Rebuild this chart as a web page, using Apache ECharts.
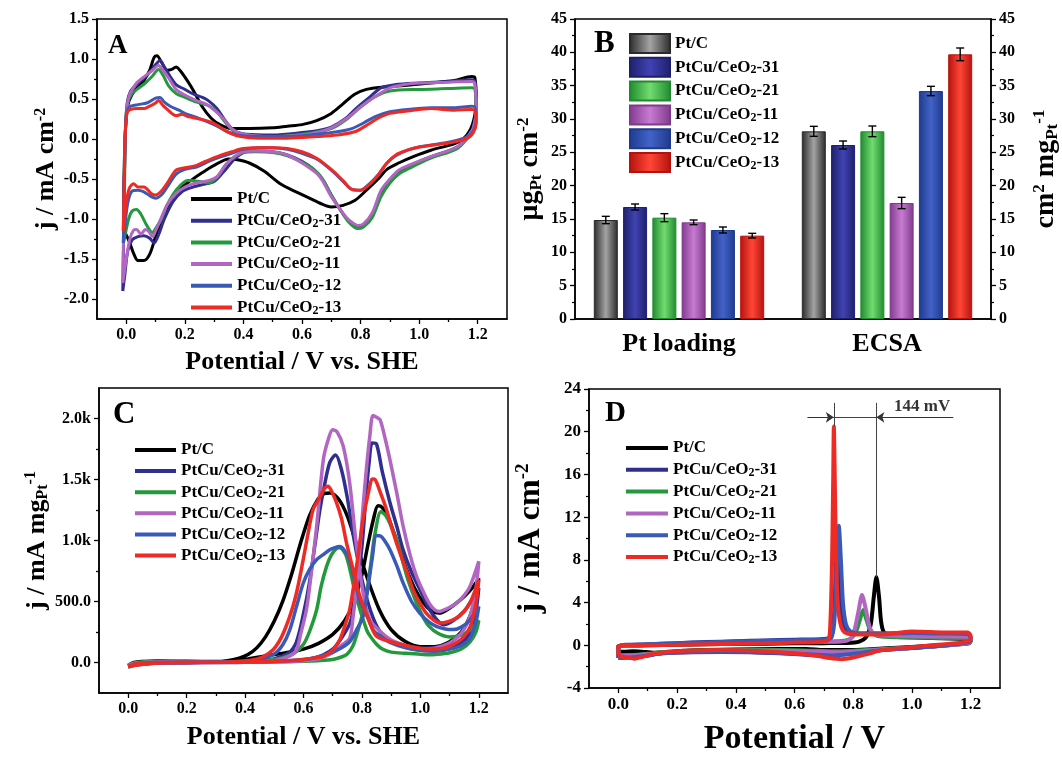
<!DOCTYPE html>
<html><head><meta charset="utf-8">
<script src="https://cdn.jsdelivr.net/npm/echarts@6/dist/echarts.min.js"></script>
<style>html,body{margin:0;padding:0;background:#fff}#c{width:1062px;height:757px}</style>
</head><body><div id="c"></div>
<script>
// ---------- shared ----------
const LABELS = ['Pt/C','PtCu/CeO2-31','PtCu/CeO2-21','PtCu/CeO2-11','PtCu/CeO2-12','PtCu/CeO2-13'];
const LINE_COLORS = ['#000000','#302e8e','#23993c','#b266c2','#3a5ab8','#ee2a24'];
const BAR_DARK  = ['#2a2a2a','#1e1f6b','#1f8a2e','#7f3a8c','#1f3a8c','#b5120e'];
const BAR_LIGHT = ['#a4a4a4','#4043b2','#72dc70','#c77bd2','#4262c8','#ff4636'];
const X_TICKS = [0,0.2,0.4,0.6,0.8,1.0,1.2];
const X_MINOR = [0.1,0.3,0.5,0.7,0.9,1.1];

// ---------- Panel A: CV (j / mA cm-2 vs potential) ----------
const A_Y_TICKS = [-2,-1.5,-1,-0.5,0,0.5,1,1.5];
const A_Y_MINOR = [-1.75,-1.25,-0.75,-0.25,0.25,0.75,1.25];
const cvA_PtC = [[-0.01,-1.15],[-0.008,-0.5],[-0.003,0.1],[0.005,0.42],[0.02,0.56],[0.04,0.65],[0.06,0.73],[0.08,0.86],[0.095,1.02],[0.105,1.04],[0.12,0.96],[0.14,0.86],[0.155,0.87],[0.17,0.9],[0.185,0.85],[0.21,0.72],[0.23,0.6],[0.26,0.4],[0.29,0.26],[0.32,0.18],[0.36,0.13],[0.42,0.13],[0.5,0.14],[0.55,0.16],[0.6,0.18],[0.65,0.23],[0.7,0.32],[0.74,0.44],[0.78,0.56],[0.82,0.62],[0.88,0.65],[0.95,0.67],[1.04,0.7],[1.12,0.73],[1.18,0.78],[1.19,0.77],[1.195,0.5],[1.19,0.3],[1.175,0.12],[1.15,0.0],[1.12,-0.06],[1.04,-0.14],[0.98,-0.22],[0.93,-0.3],[0.89,-0.38],[0.86,-0.5],[0.82,-0.64],[0.78,-0.77],[0.74,-0.83],[0.7,-0.85],[0.66,-0.8],[0.62,-0.73],[0.58,-0.66],[0.53,-0.57],[0.47,-0.4],[0.42,-0.3],[0.38,-0.26],[0.35,-0.25],[0.3,-0.33],[0.26,-0.42],[0.22,-0.52],[0.18,-0.63],[0.15,-0.78],[0.12,-1.02],[0.1,-1.22],[0.08,-1.44],[0.06,-1.52],[0.04,-1.52],[0.025,-1.43],[0.012,-1.3],[0.0,-1.2],[-0.01,-1.15]];
const cvA_31 = [[-0.012,-1.9],[-0.008,-1.0],[-0.004,0.0],[0.003,0.45],[0.015,0.6],[0.035,0.68],[0.06,0.76],[0.085,0.86],[0.105,0.95],[0.115,0.98],[0.13,0.9],[0.15,0.78],[0.17,0.68],[0.2,0.62],[0.23,0.56],[0.26,0.52],[0.28,0.48],[0.31,0.38],[0.34,0.22],[0.37,0.1],[0.41,0.06],[0.5,0.05],[0.6,0.08],[0.66,0.11],[0.7,0.15],[0.75,0.26],[0.79,0.4],[0.83,0.52],[0.87,0.64],[0.92,0.68],[1.0,0.7],[1.1,0.72],[1.18,0.74],[1.19,0.72],[1.195,0.4],[1.185,0.15],[1.17,0.05],[1.13,-0.1],[1.04,-0.22],[0.97,-0.33],[0.93,-0.42],[0.9,-0.52],[0.87,-0.68],[0.84,-0.95],[0.81,-1.08],[0.79,-1.1],[0.76,-1.03],[0.73,-0.88],[0.7,-0.7],[0.67,-0.5],[0.64,-0.38],[0.6,-0.28],[0.55,-0.2],[0.5,-0.16],[0.44,-0.15],[0.4,-0.17],[0.37,-0.25],[0.33,-0.42],[0.3,-0.53],[0.26,-0.57],[0.22,-0.61],[0.19,-0.66],[0.16,-0.78],[0.13,-1.0],[0.11,-1.2],[0.095,-1.3],[0.08,-1.24],[0.06,-1.21],[0.04,-1.22],[0.02,-1.26],[0.005,-1.4],[-0.005,-1.7],[-0.012,-1.9]];
const cvA_21 = [[-0.01,-1.3],[-0.006,-0.6],[-0.002,0.2],[0.005,0.45],[0.02,0.57],[0.04,0.63],[0.065,0.7],[0.09,0.79],[0.11,0.87],[0.125,0.8],[0.145,0.66],[0.17,0.57],[0.2,0.52],[0.24,0.46],[0.28,0.42],[0.31,0.34],[0.34,0.2],[0.37,0.09],[0.41,0.04],[0.5,0.03],[0.6,0.06],[0.7,0.13],[0.75,0.24],[0.8,0.4],[0.85,0.53],[0.9,0.6],[1.0,0.62],[1.1,0.63],[1.18,0.64],[1.19,0.63],[1.195,0.35],[1.185,0.12],[1.17,0.03],[1.13,-0.12],[1.04,-0.24],[0.97,-0.36],[0.93,-0.44],[0.9,-0.55],[0.87,-0.72],[0.84,-0.98],[0.81,-1.1],[0.79,-1.12],[0.76,-1.04],[0.73,-0.88],[0.7,-0.7],[0.67,-0.5],[0.64,-0.38],[0.6,-0.29],[0.55,-0.21],[0.5,-0.17],[0.44,-0.16],[0.4,-0.17],[0.37,-0.22],[0.34,-0.32],[0.31,-0.48],[0.28,-0.55],[0.25,-0.53],[0.21,-0.52],[0.17,-0.64],[0.14,-0.82],[0.12,-1.0],[0.1,-1.12],[0.09,-1.17],[0.07,-1.08],[0.05,-0.94],[0.035,-0.88],[0.02,-0.9],[0.008,-1.0],[-0.004,-1.2],[-0.01,-1.3]];
const cvA_11 = [[-0.012,-1.8],[-0.008,-0.9],[-0.004,0.0],[0.003,0.42],[0.012,0.56],[0.035,0.7],[0.065,0.79],[0.09,0.86],[0.11,0.92],[0.125,0.86],[0.145,0.76],[0.17,0.62],[0.2,0.55],[0.24,0.48],[0.27,0.44],[0.3,0.36],[0.33,0.26],[0.36,0.13],[0.4,0.06],[0.5,0.03],[0.58,0.04],[0.65,0.08],[0.7,0.14],[0.75,0.25],[0.8,0.4],[0.85,0.53],[0.9,0.64],[0.95,0.68],[1.0,0.7],[1.1,0.71],[1.18,0.72],[1.19,0.7],[1.195,0.38],[1.185,0.14],[1.17,0.05],[1.13,-0.1],[1.04,-0.22],[0.97,-0.32],[0.93,-0.39],[0.9,-0.5],[0.87,-0.64],[0.84,-0.92],[0.81,-1.06],[0.79,-1.08],[0.76,-1.01],[0.74,-0.93],[0.7,-0.72],[0.67,-0.52],[0.65,-0.43],[0.6,-0.3],[0.55,-0.2],[0.5,-0.16],[0.44,-0.15],[0.4,-0.16],[0.37,-0.22],[0.34,-0.32],[0.31,-0.47],[0.28,-0.52],[0.24,-0.55],[0.2,-0.6],[0.17,-0.68],[0.14,-0.82],[0.12,-0.98],[0.1,-1.15],[0.09,-1.22],[0.075,-1.15],[0.065,-1.13],[0.05,-1.19],[0.035,-1.13],[0.025,-1.14],[0.012,-1.25],[0.0,-1.5],[-0.012,-1.8]];
const cvA_12 = [[-0.01,-1.3],[-0.007,-0.6],[-0.003,0.1],[0.003,0.36],[0.015,0.41],[0.04,0.43],[0.07,0.45],[0.1,0.51],[0.115,0.52],[0.13,0.46],[0.15,0.41],[0.18,0.36],[0.2,0.32],[0.24,0.27],[0.28,0.21],[0.31,0.16],[0.34,0.1],[0.38,0.05],[0.45,0.03],[0.55,0.03],[0.65,0.06],[0.72,0.09],[0.77,0.13],[0.81,0.2],[0.85,0.28],[0.9,0.34],[0.96,0.37],[1.04,0.39],[1.12,0.39],[1.18,0.41],[1.19,0.4],[1.195,0.25],[1.185,0.1],[1.16,0.02],[1.1,-0.04],[1.0,-0.1],[0.96,-0.14],[0.92,-0.21],[0.89,-0.3],[0.86,-0.45],[0.83,-0.56],[0.8,-0.64],[0.77,-0.63],[0.74,-0.53],[0.7,-0.39],[0.65,-0.25],[0.6,-0.18],[0.55,-0.13],[0.5,-0.11],[0.45,-0.11],[0.4,-0.13],[0.36,-0.18],[0.31,-0.24],[0.27,-0.3],[0.24,-0.35],[0.2,-0.38],[0.17,-0.44],[0.14,-0.6],[0.12,-0.7],[0.1,-0.74],[0.085,-0.72],[0.06,-0.66],[0.04,-0.64],[0.02,-0.65],[0.005,-0.8],[-0.005,-1.1],[-0.01,-1.3]];
const cvA_13 = [[-0.01,-1.15],[-0.007,-0.5],[-0.003,0.1],[0.003,0.33],[0.015,0.37],[0.04,0.38],[0.06,0.38],[0.08,0.41],[0.1,0.45],[0.11,0.48],[0.125,0.42],[0.14,0.37],[0.155,0.32],[0.17,0.29],[0.19,0.31],[0.21,0.28],[0.25,0.25],[0.29,0.21],[0.32,0.15],[0.35,0.08],[0.39,0.03],[0.45,0.01],[0.55,0.01],[0.65,0.03],[0.72,0.05],[0.78,0.09],[0.82,0.17],[0.86,0.26],[0.9,0.32],[0.96,0.35],[1.04,0.38],[1.12,0.36],[1.18,0.37],[1.19,0.36],[1.195,0.2],[1.185,0.08],[1.16,0.0],[1.1,-0.05],[1.0,-0.1],[0.96,-0.14],[0.92,-0.2],[0.89,-0.3],[0.86,-0.45],[0.83,-0.57],[0.8,-0.64],[0.77,-0.63],[0.74,-0.52],[0.7,-0.38],[0.65,-0.24],[0.6,-0.16],[0.55,-0.12],[0.5,-0.11],[0.45,-0.11],[0.4,-0.12],[0.36,-0.16],[0.31,-0.22],[0.27,-0.28],[0.24,-0.33],[0.2,-0.36],[0.17,-0.39],[0.14,-0.55],[0.12,-0.65],[0.1,-0.7],[0.085,-0.68],[0.06,-0.6],[0.04,-0.6],[0.025,-0.56],[0.01,-0.62],[0.0,-0.8],[-0.01,-1.15]];

// ---------- Panel B: Pt loading & ECSA bars ----------
const B_CATEGORIES = ['Pt loading','ECSA'];
const B_PT_LOADING     = [14.85,16.8,15.2,14.5,13.35,12.5];
const B_PT_LOADING_ERR = [0.55,0.45,0.6,0.35,0.45,0.35];
const B_ECSA           = [28.15,26.1,28.15,17.4,34.2,39.7];
const B_ECSA_ERR       = [0.75,0.6,0.8,0.85,0.7,0.95];

// ---------- Panel C: methanol oxidation (mass activity) ----------
const C_Y_TICKS = [0,500,1000,1500,2000];
const C_Y_MINOR = [250,750,1250,1750];
const moC_PtC = [[0,-25],[0.02,0],[0.05,8],[0.1,12],[0.2,10],[0.3,8],[0.35,12],[0.4,25],[0.45,45],[0.5,65],[0.55,85],[0.6,110],[0.65,155],[0.7,230],[0.74,340],[0.77,480],[0.8,720],[0.82,960],[0.84,1180],[0.855,1285],[0.87,1270],[0.89,1190],[0.92,990],[0.95,780],[0.98,610],[1.01,490],[1.04,420],[1.065,405],[1.09,430],[1.12,480],[1.15,540],[1.18,620],[1.2,690],[1.19,560],[1.17,380],[1.14,250],[1.1,170],[1.05,130],[1.0,130],[0.95,170],[0.9,270],[0.86,430],[0.82,680],[0.78,980],[0.75,1200],[0.72,1340],[0.69,1390],[0.67,1385],[0.65,1340],[0.62,1200],[0.59,980],[0.56,730],[0.53,510],[0.5,340],[0.47,210],[0.44,120],[0.41,65],[0.38,35],[0.34,15],[0.3,5],[0.2,0],[0.1,-5],[0.03,-15],[0,-30]];
const moC_31 = [[0,-30],[0.03,-5],[0.1,5],[0.2,5],[0.3,3],[0.4,5],[0.5,8],[0.55,12],[0.6,20],[0.65,45],[0.7,110],[0.73,200],[0.76,330],[0.78,560],[0.8,950],[0.815,1400],[0.825,1650],[0.835,1800],[0.85,1790],[0.87,1560],[0.896,1310],[0.92,1110],[0.94,930],[0.97,740],[1.0,590],[1.03,440],[1.06,340],[1.08,310],[1.11,340],[1.15,420],[1.18,530],[1.2,610],[1.19,420],[1.17,250],[1.14,160],[1.1,115],[1.05,95],[1.0,100],[0.95,125],[0.9,175],[0.86,260],[0.83,420],[0.8,680],[0.77,1050],[0.75,1350],[0.73,1580],[0.71,1700],[0.69,1640],[0.67,1430],[0.656,1250],[0.64,980],[0.62,650],[0.6,400],[0.576,170],[0.55,80],[0.5,30],[0.45,10],[0.4,3],[0.3,0],[0.2,-2],[0.1,-5],[0.03,-15],[0,-35]];
const moC_21 = [[0,-20],[0.03,0],[0.1,8],[0.2,5],[0.3,3],[0.4,3],[0.5,5],[0.6,10],[0.65,15],[0.7,25],[0.73,45],[0.75,70],[0.77,140],[0.79,290],[0.8,380],[0.816,570],[0.83,800],[0.845,1060],[0.865,1235],[0.88,1210],[0.896,1140],[0.92,1000],[0.941,816],[0.96,660],[0.987,488],[1.01,370],[1.03,296],[1.06,240],[1.1,210],[1.14,225],[1.17,268],[1.2,345],[1.19,250],[1.17,170],[1.14,110],[1.1,80],[1.05,65],[1.03,63],[1.0,68],[0.95,75],[0.9,85],[0.87,110],[0.85,150],[0.83,210],[0.816,268],[0.78,542],[0.747,870],[0.724,940],[0.713,935],[0.695,880],[0.679,788],[0.66,620],[0.645,432],[0.62,250],[0.6,150],[0.57,80],[0.53,40],[0.5,25],[0.45,15],[0.4,8],[0.3,3],[0.2,0],[0.1,-5],[0.03,-15],[0,-25]];
const moC_11 = [[0,-25],[0.03,-5],[0.1,5],[0.2,5],[0.3,3],[0.4,5],[0.5,8],[0.6,15],[0.65,30],[0.7,80],[0.73,140],[0.758,200],[0.77,380],[0.78,600],[0.792,900],[0.804,1280],[0.815,1580],[0.827,1855],[0.838,2025],[0.85,2010],[0.862,1990],[0.88,1830],[0.896,1660],[0.92,1380],[0.941,1117],[0.965,880],[0.987,706],[1.01,580],[1.03,487],[1.05,430],[1.066,419],[1.09,440],[1.124,487],[1.15,550],[1.17,624],[1.2,830],[1.19,600],[1.17,380],[1.14,240],[1.1,160],[1.05,120],[1.0,115],[0.95,140],[0.9,185],[0.86,260],[0.827,350],[0.804,572],[0.78,982],[0.758,1474],[0.736,1773],[0.715,1890],[0.7,1908],[0.685,1830],[0.668,1664],[0.645,1117],[0.625,700],[0.61,432],[0.59,230],[0.576,104],[0.55,50],[0.5,15],[0.4,5],[0.3,0],[0.2,-2],[0.1,-5],[0.03,-15],[0,-25]];
const moC_12 = [[0,-35],[0.03,-10],[0.1,0],[0.2,2],[0.3,3],[0.4,5],[0.5,10],[0.6,25],[0.65,45],[0.7,85],[0.73,120],[0.758,170],[0.78,260],[0.804,378],[0.82,600],[0.835,850],[0.85,1040],[0.865,1035],[0.88,990],[0.896,925],[0.92,790],[0.941,652],[0.97,500],[0.998,405],[1.03,330],[1.055,296],[1.085,275],[1.112,270],[1.14,290],[1.17,350],[1.2,460],[1.19,330],[1.17,200],[1.14,140],[1.1,110],[1.05,95],[1.0,100],[0.95,120],[0.9,160],[0.86,220],[0.84,260],[0.82,370],[0.793,505],[0.775,680],[0.758,838],[0.74,920],[0.724,950],[0.705,940],[0.69,925],[0.665,880],[0.645,843],[0.62,760],[0.599,650],[0.575,450],[0.553,268],[0.53,150],[0.5,70],[0.45,25],[0.4,10],[0.3,3],[0.2,0],[0.1,-5],[0.03,-20],[0,-35]];
const moC_13 = [[0,-30],[0.03,-10],[0.1,0],[0.2,3],[0.3,3],[0.4,5],[0.5,10],[0.55,15],[0.6,25],[0.64,38],[0.668,50],[0.7,100],[0.724,187],[0.74,290],[0.758,432],[0.78,761],[0.804,1171],[0.827,1445],[0.835,1505],[0.845,1500],[0.862,1400],[0.884,1254],[0.905,1080],[0.93,898],[0.955,740],[0.975,597],[1.0,480],[1.02,405],[1.045,350],[1.067,323],[1.095,335],[1.124,364],[1.15,420],[1.17,487],[1.2,675],[1.19,480],[1.17,290],[1.14,190],[1.1,135],[1.05,110],[1.0,115],[0.95,140],[0.9,170],[0.85,215],[0.827,326],[0.793,542],[0.77,760],[0.747,982],[0.73,1180],[0.713,1311],[0.695,1410],[0.684,1445],[0.67,1420],[0.655,1350],[0.633,1254],[0.615,1050],[0.599,843],[0.575,560],[0.553,378],[0.525,210],[0.496,104],[0.46,45],[0.42,18],[0.35,5],[0.2,0],[0.1,-5],[0.03,-20],[0,-35]];

// ---------- Panel D: CO stripping ----------
const coD_PtC = [[0,-0.6],[0.0,-0.1],[0.1,0.0],[0.2,0.05],[0.3,0.1],[0.4,0.12],[0.5,0.15],[0.6,0.18],[0.7,0.2],[0.78,0.22],[0.82,0.35],[0.845,0.8],[0.86,2.0],[0.87,4.5],[0.879,6.4],[0.888,4.5],[0.895,2.2],[0.905,1.2],[0.93,0.9],[1.0,0.75],[1.1,0.65],[1.19,0.6],[1.2,0.4],[1.195,0.2],[1.1,0.0],[1.0,-0.15],[0.9,-0.3],[0.8,-0.45],[0.7,-0.45],[0.64,-0.35],[0.55,-0.35],[0.4,-0.4],[0.3,-0.45],[0.2,-0.55],[0.12,-0.7],[0.08,-0.6],[0.05,-0.55],[0.02,-0.6],[0,-0.6]];
const coD_31 = [[0,-1.2],[0.0,-0.1],[0.1,0.1],[0.2,0.2],[0.3,0.3],[0.4,0.38],[0.5,0.45],[0.6,0.52],[0.7,0.6],[0.725,0.8],[0.735,3],[0.742,8],[0.748,9],[0.755,5],[0.765,2],[0.78,1.3],[0.8,1.1],[0.9,1.1],[1.0,1.1],[1.1,1.05],[1.19,1.0],[1.2,0.7],[1.195,0.3],[1.1,-0.05],[1.0,-0.25],[0.9,-0.45],[0.8,-0.75],[0.72,-0.95],[0.65,-0.9],[0.55,-0.75],[0.45,-0.65],[0.35,-0.62],[0.25,-0.65],[0.15,-0.75],[0.1,-0.95],[0.06,-1.1],[0.03,-1.15],[0,-1.2]];
const coD_21 = [[0,-0.9],[0.0,-0.1],[0.1,0.05],[0.2,0.1],[0.3,0.15],[0.4,0.2],[0.5,0.25],[0.6,0.3],[0.7,0.35],[0.76,0.4],[0.79,0.6],[0.81,1.3],[0.825,2.6],[0.834,3.3],[0.845,2.4],[0.86,1.3],[0.88,0.9],[0.95,0.75],[1.05,0.7],[1.15,0.68],[1.19,0.68],[1.2,0.5],[1.195,0.2],[1.1,-0.05],[1.0,-0.2],[0.9,-0.35],[0.8,-0.5],[0.72,-0.55],[0.65,-0.5],[0.55,-0.45],[0.45,-0.45],[0.35,-0.45],[0.25,-0.5],[0.15,-0.65],[0.1,-0.8],[0.05,-0.9],[0,-0.9]];
const coD_11 = [[0,-1.0],[0.0,-0.1],[0.1,0.05],[0.2,0.1],[0.3,0.15],[0.4,0.2],[0.5,0.25],[0.6,0.3],[0.7,0.32],[0.76,0.35],[0.79,0.6],[0.805,1.5],[0.818,3.2],[0.83,4.7],[0.842,3.5],[0.855,1.8],[0.87,1.1],[0.9,0.95],[1.0,0.85],[1.1,0.82],[1.19,0.8],[1.2,0.55],[1.195,0.2],[1.1,-0.05],[1.0,-0.22],[0.9,-0.4],[0.8,-0.6],[0.74,-0.65],[0.65,-0.55],[0.55,-0.5],[0.45,-0.5],[0.35,-0.5],[0.25,-0.55],[0.15,-0.7],[0.1,-0.85],[0.05,-0.95],[0,-1.0]];
const coD_12 = [[0,-1.2],[0.0,-0.1],[0.1,0.08],[0.2,0.18],[0.3,0.27],[0.4,0.35],[0.5,0.42],[0.6,0.48],[0.7,0.55],[0.725,0.7],[0.735,2],[0.742,6],[0.751,11.2],[0.758,8],[0.765,4],[0.775,2],[0.79,1.3],[0.82,1.1],[0.9,1.1],[1.0,1.15],[1.1,1.1],[1.19,1.05],[1.2,0.7],[1.195,0.3],[1.1,-0.05],[1.0,-0.25],[0.9,-0.45],[0.8,-0.8],[0.73,-0.95],[0.65,-0.85],[0.55,-0.72],[0.45,-0.62],[0.35,-0.6],[0.25,-0.62],[0.15,-0.75],[0.1,-0.95],[0.06,-1.1],[0.03,-1.15],[0,-1.2]];
const coD_13 = [[0,-0.9],[0.0,-0.1],[0.1,0.0],[0.2,0.05],[0.3,0.1],[0.4,0.15],[0.5,0.2],[0.6,0.25],[0.68,0.3],[0.715,0.5],[0.722,2],[0.728,8],[0.732,16],[0.734,20.5],[0.737,16],[0.741,9],[0.747,4],[0.755,2.2],[0.765,1.4],[0.78,1.1],[0.82,1.0],[0.9,1.0],[0.95,1.15],[1.0,1.3],[1.05,1.25],[1.1,1.2],[1.19,1.2],[1.2,0.9],[1.195,0.4],[1.15,0.2],[1.05,-0.05],[0.97,-0.25],[0.9,-0.45],[0.85,-0.8],[0.8,-1.15],[0.76,-1.3],[0.72,-1.2],[0.68,-1.0],[0.62,-0.8],[0.55,-0.65],[0.45,-0.5],[0.35,-0.45],[0.25,-0.5],[0.18,-0.6],[0.12,-0.8],[0.08,-1.1],[0.055,-1.25],[0.03,-1.15],[0.01,-1.05],[0,-0.9]];
const D_PEAK_SHIFT = '144 mV';
const D_GUIDES = [[[0.734,22.7],[0.734,20.5]],[[0.879,22.7],[0.879,6.4]],[[0.734,21.35],[0.879,21.35]]];
const D_ARROWS = [[[0.644,21.35],[0.734,21.35]],[[1.141,21.35],[0.879,21.35]]];
const D_NOTE_AT = [1.035,22.35];

const A_SETS = [cvA_PtC,cvA_31,cvA_21,cvA_11,cvA_12,cvA_13];
const C_SETS = [moC_PtC,moC_31,moC_21,moC_11,moC_12,moC_13];
const D_SETS = [coD_PtC,coD_31,coD_21,coD_11,coD_12,coD_13];

// ---------- styling ----------
const FONT = '"Liberation Serif","Times New Roman",serif';
const BLACK = '#000';
const txt = (size) => ({fontFamily:FONT, fontWeight:'bold', fontSize:size, color:BLACK});
const nameRich = (size) => ({
  sup:{fontFamily:FONT, fontWeight:'bold', fontSize:Math.round(size*0.6), color:BLACK, verticalAlign:'top', padding:[0,0,Math.round(size*0.45),0]},
  sub:{fontFamily:FONT, fontWeight:'bold', fontSize:Math.round(size*0.6), color:BLACK, verticalAlign:'bottom', padding:[Math.round(size*0.35),0,0,0]}
});
const nameStyle = (size) => Object.assign(txt(size), {rich:nameRich(size)});
const legendRich = {s:{fontFamily:FONT, fontWeight:'bold', fontSize:12, color:BLACK, verticalAlign:'bottom', padding:[3,0,0,0]}};
const fmtName = (n) => n.split('#')[1].replace('CeO2','CeO{s|2}');

function valAxis(o){
  const a = {
    gridIndex:o.grid, type:'value', min:o.min, max:o.max, position:o.pos,
    axisLine:{show:o.line!==false, onZero:false, lineStyle:{color:BLACK, width:1.5}},
    axisTick:{show:true, inside:false, length:o.tickLen||5, lineStyle:{color:BLACK, width:1.3}},
    axisLabel:{show:!!o.labels, margin:o.margin||8, ...txt(o.fs||16)},
    splitLine:{show:false}
  };
  if (o.interval!==undefined) a.interval=o.interval;
  if (o.ticks){ a.axisTick.customValues=o.ticks; if(o.labels) a.axisLabel.customValues=o.ticks; }
  if (o.fmt) a.axisLabel.formatter=o.fmt;
  if (o.minor) a.minorTick={show:true, splitNumber:2, length:3, lineStyle:{color:BLACK, width:1.2}};
  if (o.name){ a.name=o.name; a.nameLocation='middle'; a.nameGap=o.gap; a.nameTextStyle=nameStyle(o.nfs||26); if(o.rot!==undefined) a.nameRotate=o.rot; }
  return a;
}
const f1 = v => v.toFixed(1);
const fC = v => v===0 ? '0.0' : (v<1000 ? v.toFixed(1) : (v/1000).toFixed(1)+'k');

const grids = [
  {left:97, top:19, width:410, height:300},
  {left:575, top:19, width:419, height:300},
  {left:99, top:388, width:409, height:305},
  {left:589, top:389, width:411, height:303}
].map(g=>Object.assign(g,{show:true, borderColor:BLACK, borderWidth:1.5, backgroundColor:'transparent', containLabel:false}));

const xAxes = [
  valAxis({grid:0,min:-0.1,max:1.3,pos:'bottom',ticks:X_TICKS,labels:true,fmt:f1,name:'Potential / V vs. SHE',gap:30,nfs:26}),
  valAxis({grid:0,min:-0.1,max:1.3,pos:'bottom',ticks:X_MINOR,line:false,tickLen:3}),
  {gridIndex:1, type:'category', data:B_CATEGORIES, position:'bottom',
   axisLine:{show:true,onZero:false,lineStyle:{color:BLACK,width:1.5}}, axisTick:{show:false},
   axisLabel:{margin:12, ...txt(26)}, splitLine:{show:false}},
  valAxis({grid:2,min:-0.1,max:1.3,pos:'bottom',ticks:X_TICKS,labels:true,fmt:f1,name:'Potential / V vs. SHE',gap:31,nfs:26}),
  valAxis({grid:2,min:-0.1,max:1.3,pos:'bottom',ticks:X_MINOR,line:false,tickLen:3}),
  valAxis({grid:3,min:-0.1,max:1.3,pos:'bottom',ticks:X_TICKS,labels:true,fmt:f1,fs:17,name:'Potential / V',gap:34,nfs:34}),
  valAxis({grid:3,min:-0.1,max:1.3,pos:'bottom',ticks:X_MINOR,line:false,tickLen:3})
];
const yAxes = [
  valAxis({grid:0,min:-2.25,max:1.5,pos:'left',ticks:A_Y_TICKS,labels:true,fmt:f1,name:'j / mA cm{sup|-2}',gap:36,nfs:26,rot:90}),
  valAxis({grid:0,min:-2.25,max:1.5,pos:'left',ticks:A_Y_MINOR,line:false,tickLen:3}),
  valAxis({grid:1,min:0,max:45,interval:5,pos:'left',labels:true,minor:true,name:'μg{sub|Pt} cm{sup|-2}',gap:30,nfs:28,rot:90}),
  valAxis({grid:1,min:0,max:45,interval:5,pos:'right',labels:true,minor:true,name:'cm{sup|2} mg{sub|Pt}{sup|-1}',gap:40,nfs:28,rot:90}),
  valAxis({grid:2,min:-250,max:2250,pos:'left',ticks:C_Y_TICKS,labels:true,fmt:fC,name:'j / mA mg{sub|Pt}{sup|-1}',gap:46,nfs:26,rot:90}),
  valAxis({grid:2,min:-250,max:2250,pos:'left',ticks:C_Y_MINOR,line:false,tickLen:3}),
  valAxis({grid:3,min:-4,max:24,interval:4,pos:'left',labels:true,minor:true,fs:17,name:'j / mA cm{sup|-2}',gap:42,nfs:32,rot:90})
];

const series = [];
LABELS.forEach((l,i)=>series.push({name:'A#'+l, type:'line', xAxisIndex:0, yAxisIndex:0, data:A_SETS[i], showSymbol:false, symbol:'none', smooth:0.3, lineStyle:{width:3, color:LINE_COLORS[i]}, itemStyle:{color:LINE_COLORS[i]}, z:2+i}));
LABELS.forEach((l,i)=>series.push({name:'C#'+l, type:'line', xAxisIndex:3, yAxisIndex:4, data:C_SETS[i], showSymbol:false, symbol:'none', smooth:0.3, lineStyle:{width:3.5, color:LINE_COLORS[i]}, itemStyle:{color:LINE_COLORS[i]}, z:2+i}));
LABELS.forEach((l,i)=>series.push({name:'D#'+l, type:'line', xAxisIndex:5, yAxisIndex:6, data:D_SETS[i], showSymbol:false, symbol:'none', smooth:0.25, lineStyle:{width:4, color:LINE_COLORS[i]}, itemStyle:{color:LINE_COLORS[i]}, z:2+i}));

const BAR_W = 24, BAR_GAP = 0.22;
LABELS.forEach((l,i)=>{
  const grad = {type:'linear', x:0, y:0, x2:1, y2:0, colorStops:[{offset:0,color:BAR_DARK[i]},{offset:0.5,color:BAR_LIGHT[i]},{offset:1,color:BAR_DARK[i]}]};
  series.push({name:'B#'+l, type:'bar', xAxisIndex:2, yAxisIndex:2, data:[B_PT_LOADING[i], B_ECSA[i]], barWidth:BAR_W, barGap:(BAR_GAP*100)+'%', itemStyle:{color:grad, borderColor:BAR_DARK[i], borderWidth:1}, z:2});
  const errs = [B_PT_LOADING_ERR[i], B_ECSA_ERR[i]];
  const vals = [B_PT_LOADING[i], B_ECSA[i]];
  series.push({name:'Berr'+i, type:'custom', xAxisIndex:2, yAxisIndex:2, z:5, silent:true,
    data: vals.map((v,k)=>[k, v, errs[k]]),
    renderItem:(params, api)=>{
      const k=api.value(0), v=api.value(1), e=api.value(2);
      const top=api.coord([k, v+e]), bot=api.coord([k, v-e]);
      const x = top[0] + (i-2.5)*BAR_W*(1+BAR_GAP);
      const st = {stroke:BLACK, lineWidth:1.4};
      return {type:'group', children:[
        {type:'line', shape:{x1:x,y1:top[1],x2:x,y2:bot[1]}, style:st},
        {type:'line', shape:{x1:x-4,y1:top[1],x2:x+4,y2:top[1]}, style:st},
        {type:'line', shape:{x1:x-4,y1:bot[1],x2:x+4,y2:bot[1]}, style:st}
      ]};
    }});
});

// D annotations
series.push({name:'guides', type:'lines', coordinateSystem:'cartesian2d', xAxisIndex:5, yAxisIndex:6, polyline:false, silent:true, z:20,
  symbol:['none','none'], lineStyle:{color:'#444', width:1, opacity:1, curveness:0},
  data:D_GUIDES.map(c=>({coords:c}))});
series.push({name:'arrows', type:'lines', coordinateSystem:'cartesian2d', xAxisIndex:5, yAxisIndex:6, polyline:false, silent:true, z:20,
  symbol:['none','arrow'], symbolSize:8, lineStyle:{color:'#333', width:1, opacity:1, curveness:0},
  data:D_ARROWS.map(c=>({coords:c}))});
series.push({name:'note', type:'scatter', xAxisIndex:5, yAxisIndex:6, silent:true, z:20, symbolSize:1, itemStyle:{color:'rgba(0,0,0,0)'},
  data:[D_NOTE_AT], label:{show:true, position:'inside', formatter:D_PEAK_SHIFT, ...txt(17)}});

const legendBase = {orient:'vertical', selectedMode:false, formatter:fmtName, padding:0,
  textStyle:Object.assign(txt(17),{lineHeight:18, rich:legendRich})};
const lineLegend = {itemStyle:{opacity:0}, lineStyle:{width:4}};
const legends = [
  Object.assign({}, legendBase, lineLegend, {data:LABELS.map(l=>'A#'+l), left:189, top:190, itemWidth:41, itemHeight:14, itemGap:3.7}),
  Object.assign({}, legendBase, {data:LABELS.map(l=>'B#'+l), left:629, top:33, itemWidth:40, itemHeight:19, itemGap:2.8, icon:'rect'}),
  Object.assign({}, legendBase, lineLegend, {data:LABELS.map(l=>'C#'+l), left:133, top:441, itemWidth:41, itemHeight:14, itemGap:3.1}),
  Object.assign({}, legendBase, lineLegend, {data:LABELS.map(l=>'D#'+l), left:624, top:439, itemWidth:42, itemHeight:14, itemGap:3.8})
];

const panelTag = (t, left, top, size) => ({type:'text', left, top, z:50, style:{text:t, font:'bold '+size+'px '+FONT, fill:BLACK}});

const chart = echarts.init(document.getElementById('c'));
chart.setOption({
  animation:false,
  backgroundColor:'#fff',
  textStyle:{fontFamily:FONT},
  grid:grids, xAxis:xAxes, yAxis:yAxes, legend:legends, series,
  graphic:[panelTag('A',108,33,27), panelTag('B',594,28,31), panelTag('C',113,399,31), panelTag('D',605,399,29)]
});
</script></body></html>
